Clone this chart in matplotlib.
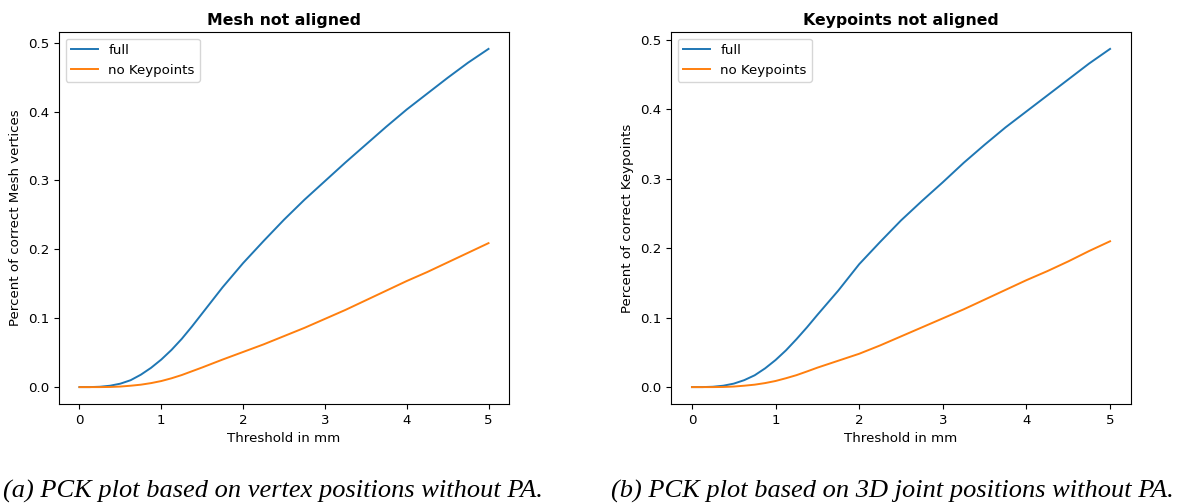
import matplotlib
matplotlib.use("Agg")
import matplotlib.pyplot as plt

thresholds = [0.0, 0.125, 0.25, 0.375, 0.5, 0.625, 0.75, 0.875, 1.0, 1.125, 1.25, 1.375,
              1.5, 1.75, 2.0, 2.25, 2.5, 2.75, 3.0, 3.25, 3.5, 3.75, 4.0, 4.25, 4.5, 4.75, 5.0]

mesh_full = [0.0, 0.0, 0.0005, 0.002, 0.005, 0.010, 0.018, 0.028, 0.040, 0.054, 0.070, 0.088,
             0.107, 0.145, 0.180, 0.212, 0.243, 0.272, 0.299, 0.326, 0.352, 0.378, 0.403,
             0.426, 0.449, 0.471, 0.491]
mesh_nokp = [0.0, 0.0, 0.0, 0.0002, 0.0008, 0.002, 0.0035, 0.0058, 0.0088, 0.0128, 0.0175, 0.023,
             0.0285, 0.040, 0.051, 0.062, 0.074, 0.086, 0.099, 0.112, 0.126, 0.140, 0.154,
             0.167, 0.181, 0.195, 0.209]

kp_full = [0.0, 0.0, 0.0005, 0.002, 0.005, 0.010, 0.017, 0.027, 0.039, 0.053, 0.069, 0.086,
           0.104, 0.139, 0.177, 0.209, 0.240, 0.268, 0.295, 0.323, 0.349, 0.374, 0.397,
           0.420, 0.443, 0.466, 0.487]
kp_nokp = [0.0, 0.0, 0.0, 0.0002, 0.0008, 0.002, 0.0035, 0.0058, 0.0088, 0.0128, 0.0172, 0.0225,
           0.028, 0.038, 0.048, 0.060, 0.073, 0.086, 0.099, 0.112, 0.126, 0.140, 0.154,
           0.167, 0.181, 0.196, 0.210]

series_labels = ["full", "no Keypoints"]
titles = ["Mesh not aligned", "Keypoints not aligned"]
ylabels = ["Percent of correct Mesh vertices", "Percent of correct Keypoints"]
xlabel = "Threshold in mm"
captions = ["(a) PCK plot based on vertex positions without PA.",
            "(b) PCK plot based on 3D joint positions without PA."]

fs = 9.6
plt.rcParams['font.size'] = fs

fig = plt.figure(figsize=(11.9, 5.03), dpi=100)
ax1 = fig.add_axes([0.0496, 0.1968, 0.4277 - 0.0496, 0.9364 - 0.1968])
ax2 = fig.add_axes([0.5639, 0.1968, 0.9504 - 0.5639, 0.9364 - 0.1968])

for ax, full, nokp, title, yl in [(ax1, mesh_full, mesh_nokp, titles[0], ylabels[0]),
                                   (ax2, kp_full, kp_nokp, titles[1], ylabels[1])]:
    ax.plot(thresholds, full, color="#1f77b4", lw=1.4, label=series_labels[0])
    ax.plot(thresholds, nokp, color="#ff7f0e", lw=1.4, label=series_labels[1])
    ax.set_title(title, fontweight="bold", fontsize=11.3, pad=5)
    ax.set_xlabel(xlabel, fontsize=fs)
    ax.set_ylabel(yl, fontsize=fs)
    ax.tick_params(labelsize=fs)
    ax.legend(loc="upper left", fontsize=fs)

fig.text(0.229, 0.010, captions[0], ha="center", va="baseline",
         family="Liberation Serif", style="italic", fontsize=19)
fig.text(0.750, 0.010, captions[1], ha="center", va="baseline",
         family="Liberation Serif", style="italic", fontsize=19)

fig.savefig("out.png", dpi=100)
